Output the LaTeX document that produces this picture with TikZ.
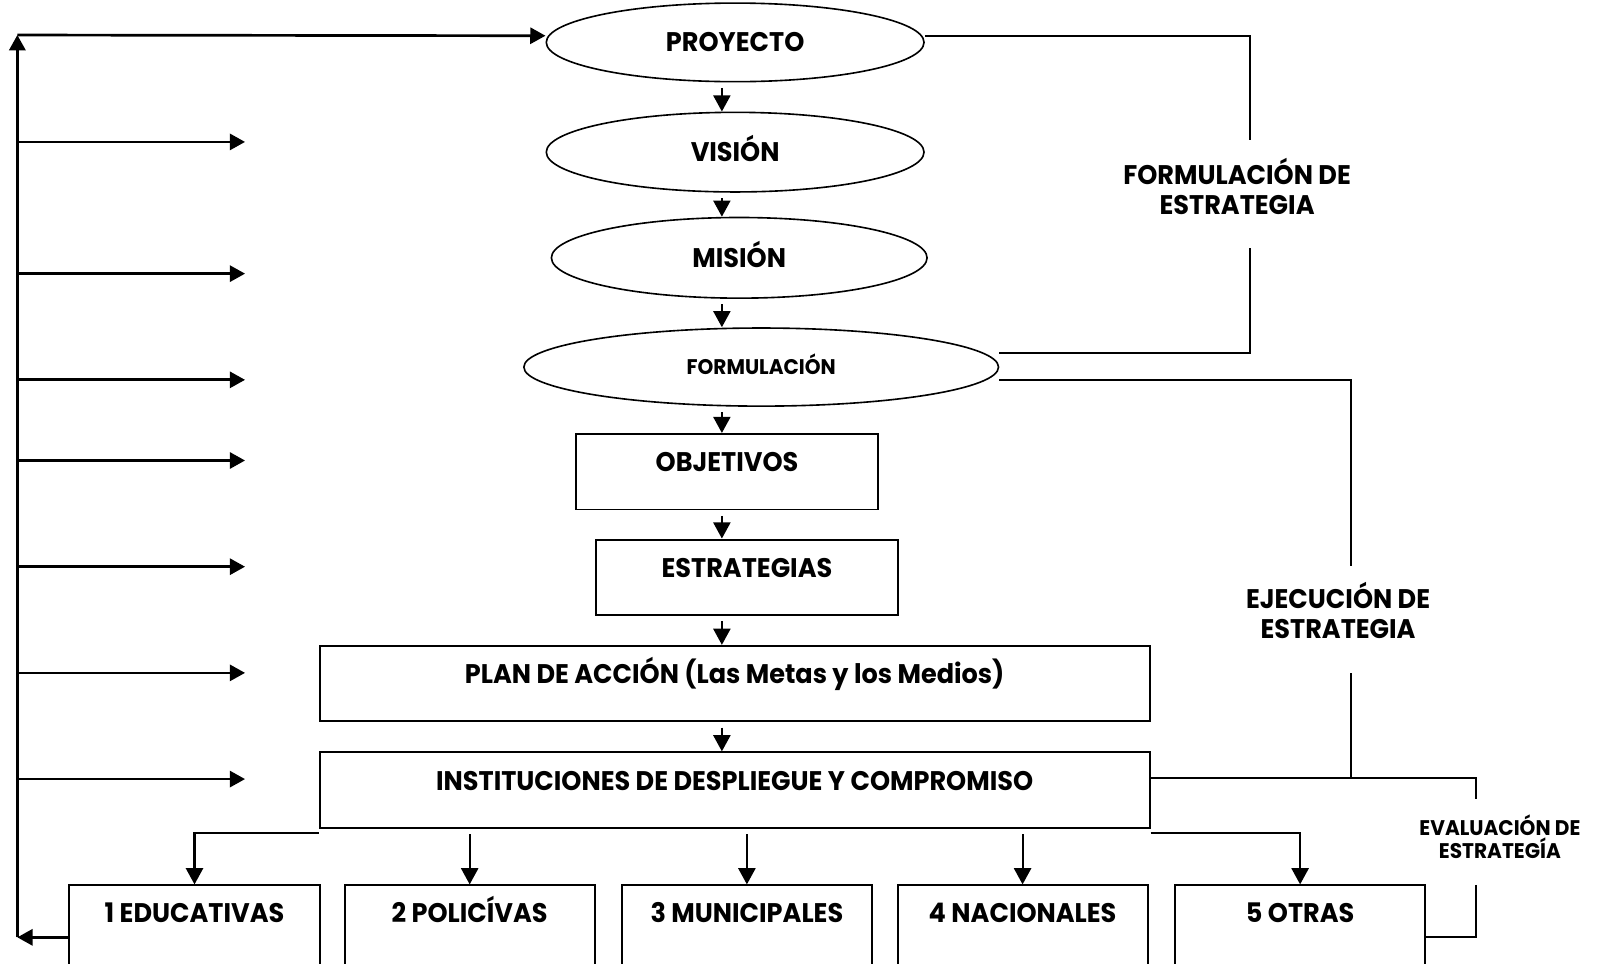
\documentclass[tikz,border=0pt]{standalone}
\usepackage{fontspec}
\setmainfont{Poppins}[FakeStretch=0.95]
\usetikzlibrary{shapes,arrows.meta}

\tikzset{
  every node/.style={font=\bfseries\fontsize{15}{17}\selectfont},
  ovalbox/.style={draw, ellipse, line width=0.9pt, inner sep=0pt, text height=10.6pt, text depth=0pt},
  boxnode/.style={draw, rectangle, line width=1.1pt, inner sep=0pt, text height=0.74cm, text depth=0.74cm},
  instbox/.style={boxnode, minimum width=4.9cm, text height=0.726cm, text depth=1.31cm},
  link/.style={line width=1.1pt},
  arr/.style={line width=1.2pt, -{Triangle[length=9pt,width=9.5pt]}},
  sidearr/.style={line width=1.5pt, -{Triangle[length=8.5pt,width=9pt]}},
  lab/.style={align=center, font=\bfseries\fontsize{15}{16.8}\selectfont},
  smalllab/.style={align=center, font=\bfseries\fontsize{11.8}{11}\selectfont}
}

\begin{document}
\begin{tikzpicture}[x=0.02cm,y=-0.02cm]
\useasboundingbox (0,0) rectangle (1568,944);

\node[ovalbox, minimum width=7.4cm, minimum height=1.54cm] (proyecto) at (720,41.5) {PROYECTO};%top
\node[ovalbox, minimum width=7.4cm, minimum height=1.56cm] (vision) at (720,149) {VISIÓN};
\node[ovalbox, minimum width=7.36cm, minimum height=1.58cm] (mision) at (724,252.5) {MISIÓN};
\node[ovalbox, minimum width=9.3cm, minimum height=1.53cm, font=\bfseries\fontsize{11.8}{13}\selectfont, text height=8.2pt] (formulacion) at (745.5,359.5) {FORMULACIÓN};

\node[boxnode, minimum width=5.92cm] (obj) at (712,462) {OBJETIVOS};
\node[boxnode, minimum width=5.92cm] (estr) at (731.6,565.4) {ESTRATEGIAS};
\node[boxnode, minimum width=16.26cm] (plan) at (719.5,669.5) {PLAN DE ACCIÓN (Las Metas y los Medios)};
\node[boxnode, minimum width=16.26cm] (inst) at (719.5,773.8) {INSTITUCIONES DE DESPLIEGUE Y COMPROMISO};

\node[instbox] (edu) at (190.5,918) {1 EDUCATIVAS};%bottom row
\node[instbox] (pol) at (460,918) {2 POLICÍVAS};
\node[instbox] (mun) at (731.5,918) {3 MUNICIPALES};
\node[instbox] (nac) at (1001.5,918) {4 NACIONALES};
\node[instbox] (otras) at (1273.3,918) {5 OTRAS};

\node[lab] (formlab) at (1211.6,182.75) {FORMULACIÓN DE\\ESTRATEGIA};%right labels
\node[lab] (ejlab) at (1310.5,598.2) {EJECUCIÓN DE\\ESTRATEGIA};
\node[smalllab] (evallab) at (1469,819.3) {EVALUACIÓN DE\\ESTRATEGÍA};

\coordinate (f1) at (1224,137);
\coordinate (f2) at (1224,243);
\coordinate (e1) at (1323,554);
\coordinate (e2) at (1323,659.5);
\coordinate (v1) at (1446,782.5);
\coordinate (v2) at (1446,866.7);

\draw[link] ([yshift=0.13cm]proyecto.east) -| (f1);
\draw[link] (f2) |- ([yshift=0.27cm]formulacion.east);
\draw[link] ([yshift=-0.25cm]formulacion.east) -| (e1);
\draw[link] (e2) |- ([yshift=0.236cm]inst.east);
\draw[link] ([yshift=0.236cm]inst.east) -| (v1);
\draw[link] (v2) |- (otras.east);

\coordinate (spine) at (707,0);%middle arrows
\foreach \a/\b in {proyecto/vision, vision/mision, mision/formulacion, formulacion/obj, obj/estr, estr/plan, plan/inst}
  \draw[arr, shorten <=3pt] (\a.south -| spine) -- (\b.north -| spine);

\draw[arr] ([yshift=-0.08cm]inst.south west) -| (edu.north);
\foreach \n in {pol,mun,nac}
  \draw[arr, shorten <=3pt] (inst.south -| \n.north) -- (\n.north);
\draw[arr] ([yshift=-0.08cm]inst.south east) -| (otras.north);

\coordinate (railtop) at (17,34.3);%left rail
\coordinate (railbot) at (17,918);
\draw[sidearr] (railbot) -- (railtop);
\draw[sidearr] (railtop) -- ([yshift=0.13cm]proyecto.west);
\foreach \y [count=\i] in {139,268,372,451,555,659,763} {
  \coordinate (s\i) at (240,\y);
  \draw[sidearr] (s\i -| railtop) -- (s\i);
}
\draw[sidearr] (edu.west) -- (edu.west -| railbot);

\end{tikzpicture}
\end{document}
